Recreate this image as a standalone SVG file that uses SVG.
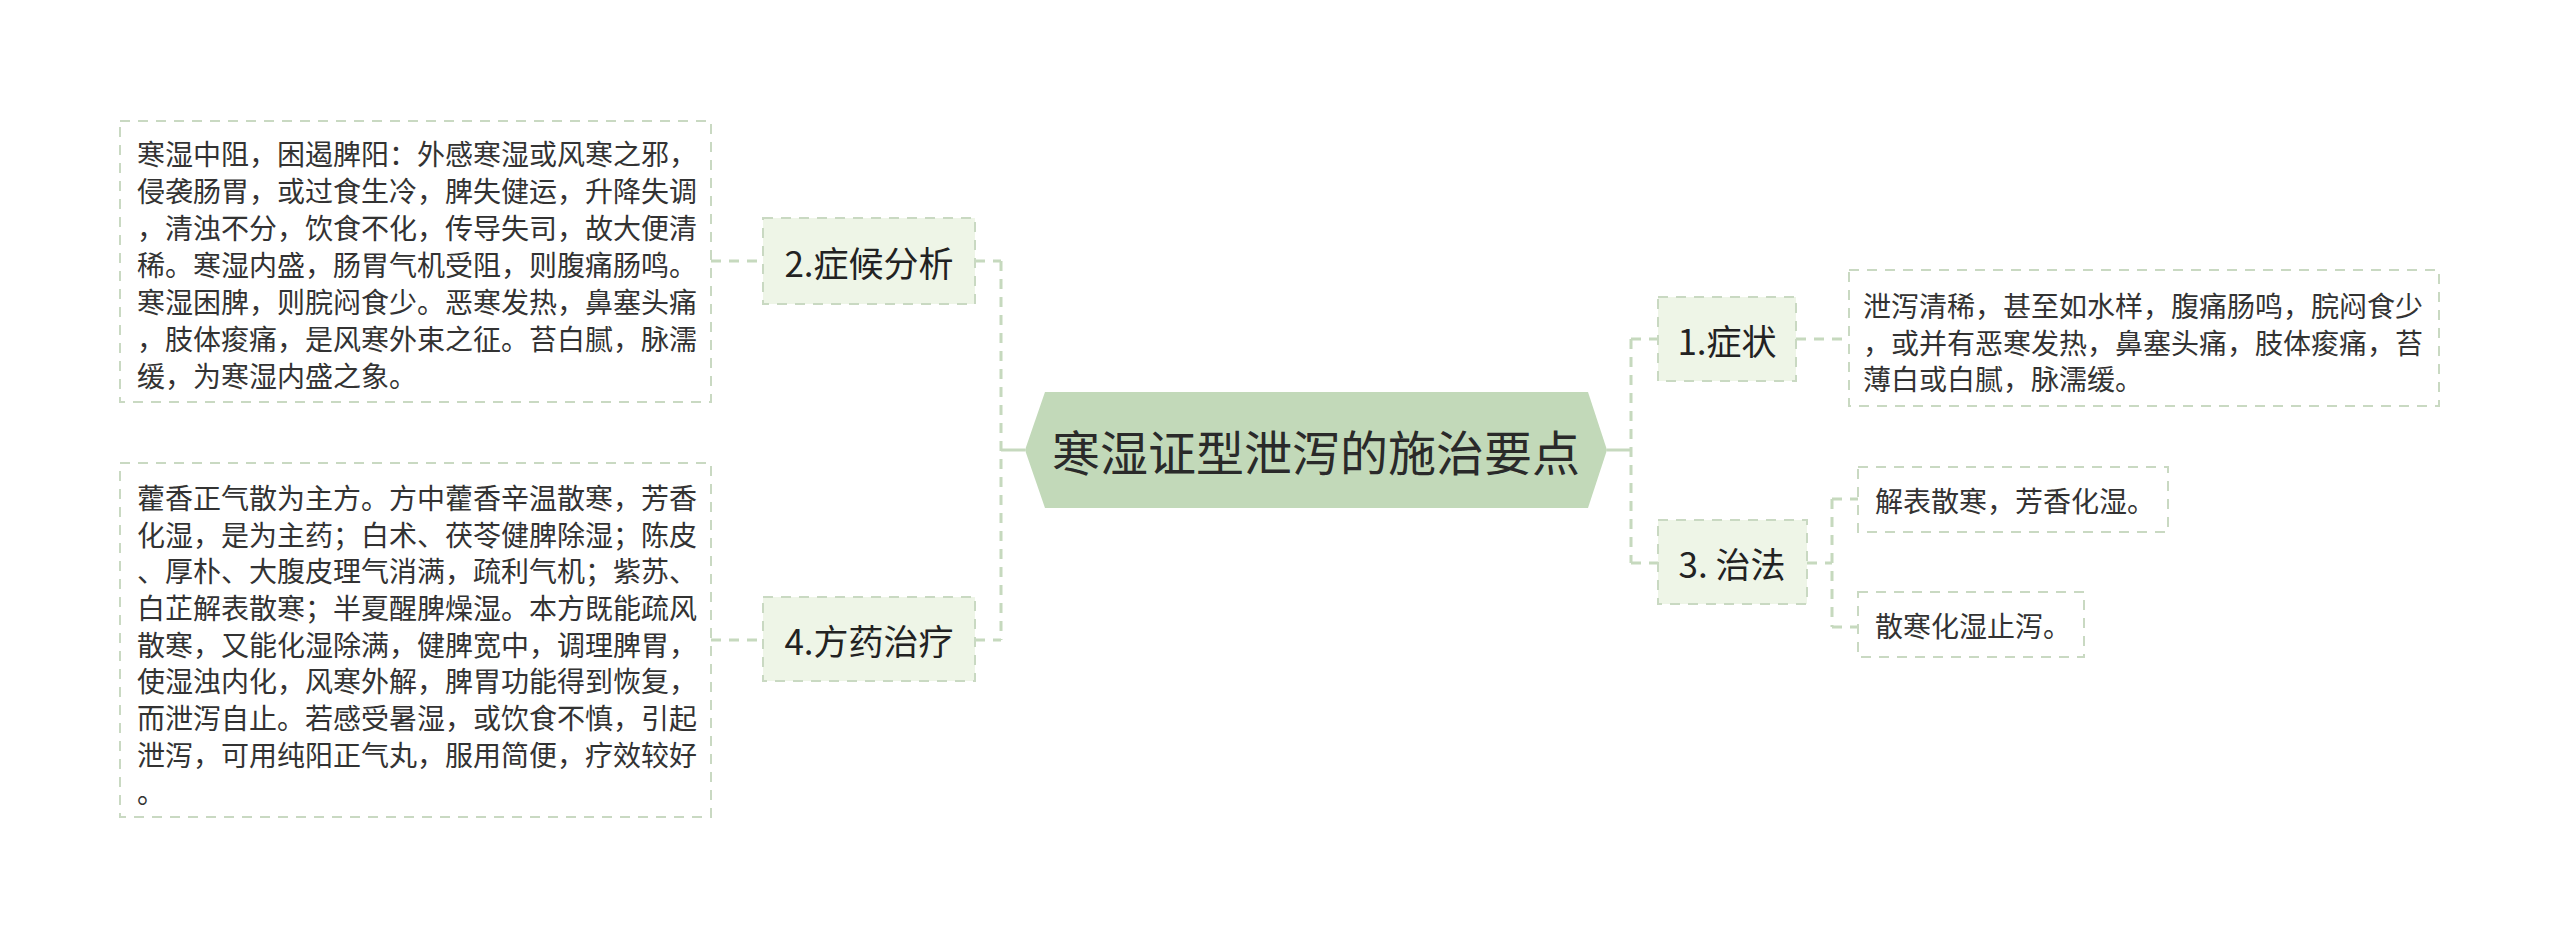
<svg xmlns="http://www.w3.org/2000/svg" width="2560" height="937" viewBox="0 0 2560 937">
<style>
.bg{fill:#ffffff}
.box{fill:#ffffff;stroke:#C9D9C2;stroke-width:2;stroke-dasharray:10 8}
.node{fill:#EEF5E7;stroke:#C9D9C2;stroke-width:2;stroke-dasharray:10 8}
.center{fill:#C2D9B9}
.conn{fill:none;stroke:#C6D9BE;stroke-width:3;stroke-dasharray:10 8}
.solid{fill:none;stroke:#C6D9BE;stroke-width:3}
.t{font-family:"Noto Sans CJK SC","Noto Sans",sans-serif;font-size:28px;fill:#333333;dominant-baseline:central}
.n{font-family:"Noto Sans CJK SC","Noto Sans",sans-serif;font-size:35px;fill:#222222;text-anchor:middle;dominant-baseline:central}
.c{font-family:"Noto Sans CJK SC","Noto Sans",sans-serif;font-size:48px;fill:#2a2a2a;text-anchor:middle;dominant-baseline:central}
</style>
<rect class="bg" x="0" y="0" width="2560" height="937"/>
<g id="connectors">
<path class="solid" d="M1001,450 H1025"/>
<path class="conn" d="M1001,261 V640"/>
<path class="conn" d="M975,261 H1001"/>
<path class="conn" d="M975,640 H1001"/>
<path class="conn" d="M711,261 H763"/>
<path class="conn" d="M711,640 H763"/>
<path class="solid" d="M1607,450 H1631"/>
<path class="conn" d="M1631,339 V563"/>
<path class="conn" d="M1631,339 H1658"/>
<path class="conn" d="M1631,563 H1658"/>
<path class="conn" d="M1796,339 H1849"/>
<path class="conn" d="M1807,563 H1832"/>
<path class="conn" d="M1832,499 V627"/>
<path class="conn" d="M1832,499 H1858"/>
<path class="conn" d="M1832,627 H1858"/>
</g>
<g id="center">
<polygon class="center" points="1025,450 1045,392 1588,392 1607,450 1588,508 1045,508"/>
<text class="c" x="1316" y="450">寒湿证型泄泻的施治要点</text>
</g>
<g id="node2">
<rect class="node" x="763" y="218" width="212" height="86"/>
<text class="n" x="869" y="261">2.症候分析</text>
</g>
<g id="node4">
<rect class="node" x="763" y="597" width="212" height="84"/>
<text class="n" x="869" y="639">4.方药治疗</text>
</g>
<g id="node1">
<rect class="node" x="1658" y="297" width="138" height="84"/>
<text class="n" x="1727" y="339">1.症状</text>
</g>
<g id="node3">
<rect class="node" x="1658" y="520" width="149" height="84"/>
<text class="n" x="1732" y="562">3. 治法</text>
</g>
<g id="box2">
<rect class="box" x="120" y="121" width="591" height="281"/>
<text class="t" x="137" y="153">寒湿中阻，困遏脾阳：外感寒湿或风寒之邪，</text>
<text class="t" x="137" y="190">侵袭肠胃，或过食生冷，脾失健运，升降失调</text>
<text class="t" x="137" y="227">，清浊不分，饮食不化，传导失司，故大便清</text>
<text class="t" x="137" y="264">稀。寒湿内盛，肠胃气机受阻，则腹痛肠鸣。</text>
<text class="t" x="137" y="301">寒湿困脾，则脘闷食少。恶寒发热，鼻塞头痛</text>
<text class="t" x="137" y="338">，肢体痠痛，是风寒外束之征。苔白腻，脉濡</text>
<text class="t" x="137" y="375">缓，为寒湿内盛之象。</text>
</g>
<g id="box4">
<rect class="box" x="120" y="463" width="591" height="354"/>
<text class="t" x="137" y="497">藿香正气散为主方。方中藿香辛温散寒，芳香</text>
<text class="t" x="137" y="534">化湿，是为主药；白术、茯苓健脾除湿；陈皮</text>
<text class="t" x="137" y="570">、厚朴、大腹皮理气消满，疏利气机；紫苏、</text>
<text class="t" x="137" y="607">白芷解表散寒；半夏醒脾燥湿。本方既能疏风</text>
<text class="t" x="137" y="644">散寒，又能化湿除满，健脾宽中，调理脾胃，</text>
<text class="t" x="137" y="680">使湿浊内化，风寒外解，脾胃功能得到恢复，</text>
<text class="t" x="137" y="717">而泄泻自止。若感受暑湿，或饮食不慎，引起</text>
<text class="t" x="137" y="754">泄泻，可用纯阳正气丸，服用简便，疗效较好</text>
<text class="t" x="137" y="791">。</text>
</g>
<g id="box1">
<rect class="box" x="1849" y="270" width="590" height="136"/>
<text class="t" x="1863" y="305">泄泻清稀，甚至如水样，腹痛肠鸣，脘闷食少</text>
<text class="t" x="1863" y="342">，或并有恶寒发热，鼻塞头痛，肢体痠痛，苔</text>
<text class="t" x="1863" y="378">薄白或白腻，脉濡缓。</text>
</g>
<g id="box3a">
<rect class="box" x="1858" y="467" width="310" height="65"/>
<text class="t" x="1875" y="500">解表散寒，芳香化湿。</text>
</g>
<g id="box3b">
<rect class="box" x="1858" y="592" width="226" height="65"/>
<text class="t" x="1875" y="625">散寒化湿止泻。</text>
</g>
</svg>
